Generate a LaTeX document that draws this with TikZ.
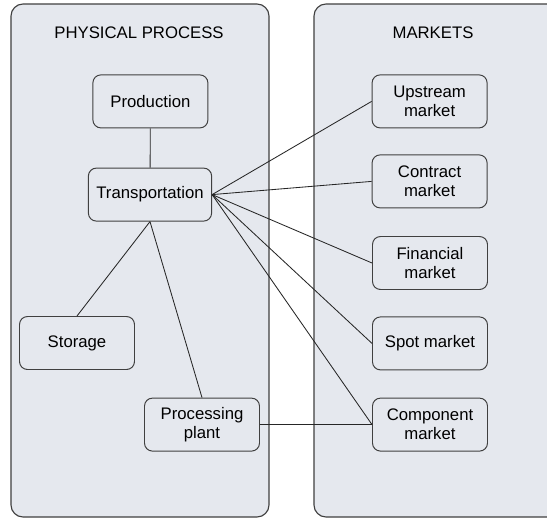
\documentclass[tikz,border=0pt]{standalone}
\usepackage{fontspec}
\setmainfont{Liberation Sans}
\tikzset{
  panel/.style={draw=black!75,fill=panelfill,line width=0.8pt,rounded corners=0.3cm},
  box/.style={draw=black!75,line width=0.7pt,rounded corners=0.2cm,minimum width=2.875cm,
    minimum height=1.325cm,inner xsep=0.2cm,align=center,font=\fontsize{11.9}{13.5}\selectfont},
  title/.style={font=\fontsize{11.9}{13.5}\selectfont},
  link/.style={draw=black!85,line width=0.6pt}
}
\definecolor{panelfill}{RGB}{229,232,238}
\begin{document}
\begin{tikzpicture}[x=1cm,y=1cm]
  \clip (0,0) rectangle (13.675,12.975);
  \fill[white] (0,0) rectangle (13.675,12.975);

  % panouri
  \draw[panel] (0.275,0.05) rectangle (6.725,12.875);
  \draw[panel] (7.85,0.05) rectangle (14.3,12.875);
  \node[title] (physical) at (3.475,12.15) {PHYSICAL PROCESS};
  \node[title] (markets) at (10.825,12.15) {MARKETS};

  % procesul fizic
  \node[box] (prod)  at (3.76,10.44) {Production};
  \node[box] (trans) at (3.75,8.11)  {Transportation};
  \node[box] (stor)  at (1.925,4.4)  {Storage};
  \node[box] (proc)  at (5.05,2.36)  {Processing\\plant};

  % piețe
  \node[box] (up)   at (10.74,10.44) {Upstream\\market};
  \node[box] (con)  at (10.74,8.44)  {Contract\\market};
  \node[box] (fin)  at (10.75,6.4)   {Financial\\market};
  \node[box] (spot) at (10.75,4.39)  {Spot market};
  \node[box] (comp) at (10.75,2.36)  {Component\\market};

  % legături
  \draw[link] (prod) -- (trans);
  \draw[link] (trans.south) -- (stor.north);
  \draw[link] (trans.south) -- (proc.north);
  \foreach \mkt in {up,con,fin,spot,comp}
    \draw[link] (trans.east) -- (\mkt.west);
  \draw[link] (proc.east) -- (comp.west);
\end{tikzpicture}
\end{document}
